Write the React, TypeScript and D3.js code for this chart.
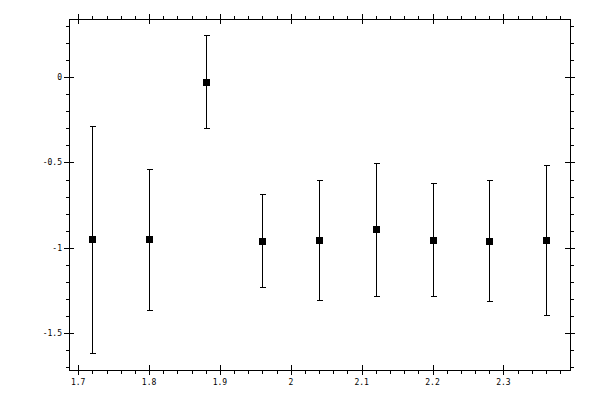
import React from "react";
import * as d3 from "d3";

// measured points with error bars
const xValues = [1.72, 1.8, 1.88, 1.96, 2.04, 2.12, 2.2, 2.28, 2.36];
const yValues = [-0.95, -0.95, -0.031, -0.96, -0.956, -0.892, -0.954, -0.96, -0.956];
const yLower = [-1.617, -1.366, -0.299, -1.23, -1.308, -1.282, -1.282, -1.313, -1.393];
const yUpper = [-0.287, -0.54, 0.246, -0.685, -0.605, -0.505, -0.622, -0.605, -0.517];

const xMajor = [1.7, 1.8, 1.9, 2.0, 2.1, 2.2, 2.3];
const yMajor = [-1.5, -1.0, -0.5, 0];

const width = 600;
const height = 400;
const frame = { left: 69, right: 570, top: 19, bottom: 370 };

const fmt = (v: number) => String(Math.round(v * 100) / 100);

export default function App() {
  const x = d3.scaleLinear().domain([1.687, 2.394]).range([frame.left, frame.right]);
  const y = d3.scaleLinear().domain([-1.715, 0.34]).range([frame.bottom, frame.top]);

  // minor ticks every 0.02 on x and 0.1 on y
  const xMinor = d3
    .range(1.68, 2.4, 0.02)
    .map((v) => Math.round(v * 100) / 100)
    .filter((v) => x(v) > frame.left && x(v) < frame.right)
    .filter((v) => !xMajor.some((m) => Math.abs(m - v) < 1e-6));
  const yMinor = d3
    .range(-1.7, 0.35, 0.1)
    .map((v) => Math.round(v * 10) / 10)
    .filter((v) => y(v) < frame.bottom && y(v) > frame.top)
    .filter((v) => !yMajor.some((m) => Math.abs(m - v) < 1e-6));

  const px = (v: number) => Math.round(v) + 0.5;
  const major = 5;
  const minor = 3.5;
  const cap = 3;
  const box = 7;

  return (
    <svg
      width={width}
      height={height}
      style={{ position: "absolute", left: 0, top: 0, background: "white" }}
      shapeRendering="crispEdges"
    >
      <rect
        x={px(frame.left)}
        y={px(frame.top)}
        width={frame.right - frame.left}
        height={frame.bottom - frame.top}
        fill="none"
        stroke="black"
        strokeWidth={1.2}
      />

      {/* x ticks, bottom and top */}
      {xMajor.map((v) => (
        <g key={"xm" + v}>
          <line x1={px(x(v))} x2={px(x(v))} y1={frame.bottom - major} y2={frame.bottom + major} stroke="black" />
          <line x1={px(x(v))} x2={px(x(v))} y1={frame.top - major} y2={frame.top + major} stroke="black" />
          <text
            x={x(v)}
            y={frame.bottom + 15}
            textAnchor="middle"
            fontFamily="DejaVu Sans Mono"
            fontSize={8}
          >
            {fmt(v)}
          </text>
        </g>
      ))}
      {xMinor.map((v) => (
        <g key={"xn" + v}>
          <line x1={px(x(v))} x2={px(x(v))} y1={frame.bottom} y2={frame.bottom + minor} stroke="black" />
          <line x1={px(x(v))} x2={px(x(v))} y1={frame.top - minor} y2={frame.top} stroke="black" />
        </g>
      ))}

      {/* y ticks, left and right */}
      {yMajor.map((v) => (
        <g key={"ym" + v}>
          <line x1={frame.left - major} x2={frame.left + major} y1={px(y(v))} y2={px(y(v))} stroke="black" />
          <line x1={frame.right - major} x2={frame.right + major} y1={px(y(v))} y2={px(y(v))} stroke="black" />
          <text
            x={frame.left - 7}
            y={y(v) + 3}
            textAnchor="end"
            fontFamily="DejaVu Sans Mono"
            fontSize={8}
          >
            {fmt(v)}
          </text>
        </g>
      ))}
      {yMinor.map((v) => (
        <g key={"yn" + v}>
          <line x1={frame.left - minor} x2={frame.left} y1={px(y(v))} y2={px(y(v))} stroke="black" />
          <line x1={frame.right} x2={frame.right + minor} y1={px(y(v))} y2={px(y(v))} stroke="black" />
        </g>
      ))}

      {/* error bars and markers */}
      {xValues.map((xv, i) => {
        const cx = px(x(xv));
        return (
          <g key={"p" + i} stroke="black">
            <line x1={cx} x2={cx} y1={y(yUpper[i])} y2={y(yLower[i])} />
            <line x1={cx - cap} x2={cx + cap} y1={px(y(yUpper[i]))} y2={px(y(yUpper[i]))} />
            <line x1={cx - cap} x2={cx + cap} y1={px(y(yLower[i]))} y2={px(y(yLower[i]))} />
            <rect
              x={Math.round(x(xv)) - 3}
              y={Math.round(y(yValues[i])) - 3}
              width={box}
              height={box}
              fill="black"
              stroke="none"
            />
          </g>
        );
      })}
    </svg>
  );
}
